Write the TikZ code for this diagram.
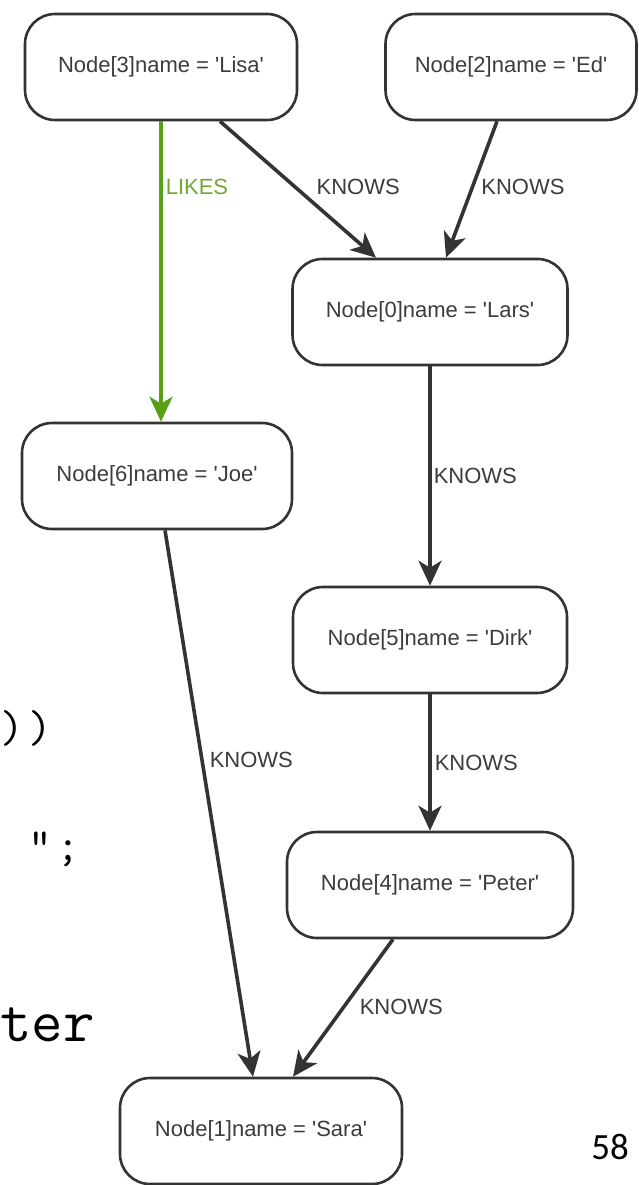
\documentclass[tikz,border=0pt]{standalone}
\usepackage{fontspec}
\setmainfont{Liberation Sans}[Ligatures=TeXOff]
\newfontfamily\pagefont{Carlito}
\usetikzlibrary{arrows.meta}
\definecolor{edgegray}{HTML}{333333}
\definecolor{textgray}{HTML}{3C3C3C}
\definecolor{likegreen}{HTML}{55A014}
\definecolor{likelabel}{HTML}{6EAA32}
\tikzstyle{person}=[rectangle, rounded corners=30pt, draw=edgegray, line width=2.6pt, fill=white, text=textgray, font=\fontsize{22}{24}\selectfont, minimum height=106pt, inner sep=0pt, anchor=center]
\tikzstyle{knows}=[draw=edgegray, line width=3.6pt, -{Stealth[length=25pt,width=23pt,inset=7pt]}]
\tikzstyle{likes}=[knows, draw=likegreen]
\tikzstyle{rel}=[font=\fontsize{22}{24}\selectfont, text=textgray, inner sep=0pt, anchor=west]
\tikzstyle{code}=[font=\ttfamily\fontsize{46}{50}\selectfont, inner sep=0pt, anchor=base west]

\begin{document}
\begin{tikzpicture}[x=1pt,y=-1pt]
	\useasboundingbox[fill=white] (0,0) rectangle (638,1185);

	% slide text behind the graph
	\node[code](close) at (0,742) {)\kern5pt)};
	\node[code](quote) at (28,860) {"\kern5pt;};
	\node[code, font=\ttfamily\fontsize{61}{64}\selectfont](filter) at (0,1041) {ter};
	\node[font=\pagefont\fontsize{37}{40}\selectfont, inner sep=0pt, anchor=base](page) at (610,1159) {58};

	\node[person, minimum width=272pt](lisa) at (161,67) {Node[3]name = 'Lisa'};
	\node[person, minimum width=251pt](ed) at (511,67) {Node[2]name = 'Ed'};
	\node[person, minimum width=275pt](lars) at (430,312) {Node[0]name = 'Lars'};
	\node[person, minimum width=270pt](joe) at (157,476) {Node[6]name = 'Joe'};
	\node[person, minimum width=274pt](dirk) at (430,640) {Node[5]name = 'Dirk'};
	\node[person, minimum width=286pt](peter) at (430,885) {Node[4]name = 'Peter'};
	\node[person, minimum width=282pt](sara) at (261,1131) {Node[1]name = 'Sara'};

	\draw[likes] (lisa.south) -- node[rel, text=likelabel, pos=0.22, xshift=3pt] {LIKES} (lisa.south |- joe.north);
	\draw[knows] ([xshift=59pt]lisa.south) -- node[rel, pos=0.48, xshift=20pt] {KNOWS} ([xshift=-54pt]lars.north);
	\draw[knows] ([xshift=-14pt]ed.south) -- node[rel, pos=0.48, xshift=7pt] {KNOWS} ([xshift=16pt]lars.north);
	\draw[knows] (lars.south) -- node[rel, pos=0.5, xshift=2pt] {KNOWS} (dirk.north);
	\draw[knows] (dirk.south) -- node[rel, pos=0.5, xshift=3pt] {KNOWS} (peter.north);
	\draw[knows] ([xshift=8pt]joe.south) -- node[rel, pos=0.42, xshift=6pt] {KNOWS} ([xshift=-8pt]sara.north);
	\draw[knows] ([xshift=-37pt]peter.south) -- node[rel, pos=0.49, xshift=14pt] {KNOWS} ([xshift=32pt]sara.north);

\end{tikzpicture}
\end{document}
